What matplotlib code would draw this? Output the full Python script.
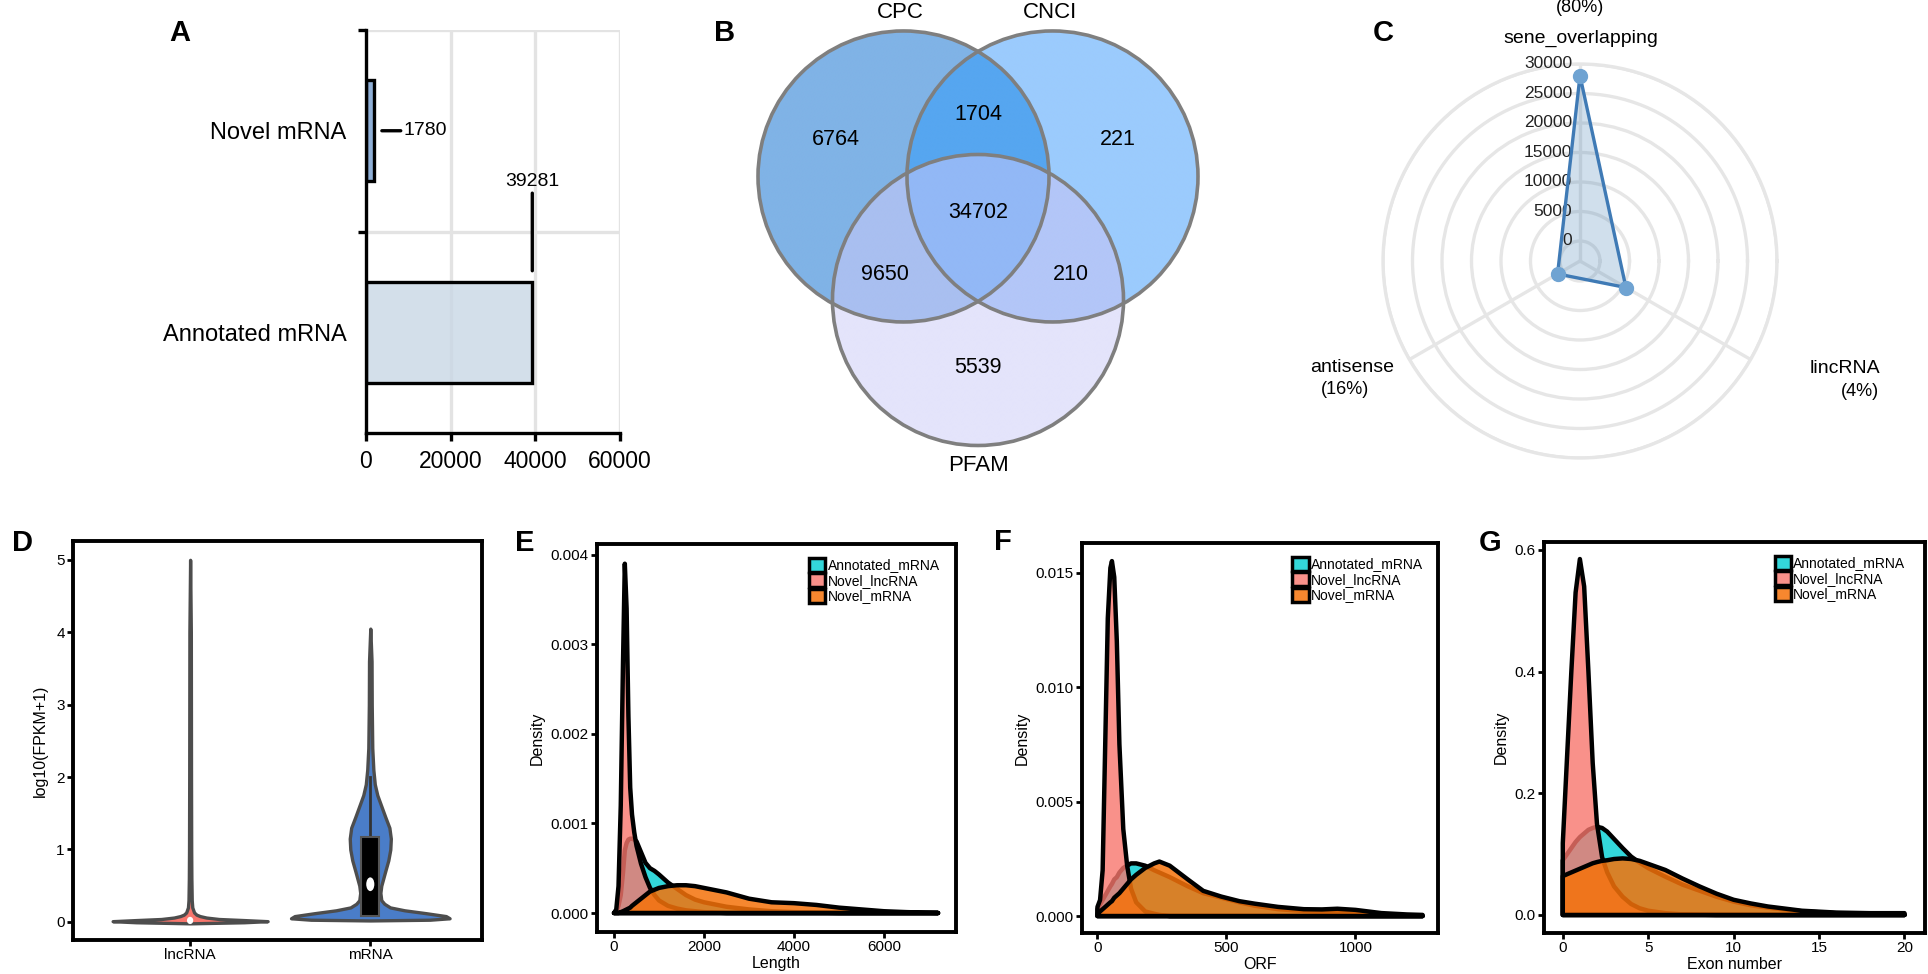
import numpy as np
import matplotlib
matplotlib.use("Agg")
import matplotlib.pyplot as plt
from matplotlib.patches import Patch, Circle, Rectangle, Ellipse
from matplotlib.colors import to_rgba
from matplotlib.transforms import offset_copy

plt.rcParams['font.family'] = ['Liberation Sans', 'DejaVu Sans']

# ---------------- data ----------------
# A
a_categories = ['Annotated mRNA', 'Novel mRNA']
a_counts = [39281, 1780]
a_xticks = [0, 20000, 40000, 60000]

# B (Venn)
venn_sets = ['CPC', 'CNCI', 'PFAM']
venn_only_cpc = 6764
venn_only_cnci = 221
venn_only_pfam = 5539
venn_cpc_cnci = 1704
venn_cpc_pfam = 9650
venn_cnci_pfam = 210
venn_all = 34702

# C (radar)
radar_axes = ['sene_overlapping', 'antisense', 'lincRNA']
radar_pct = ['(80%)', '(16%)', '(4%)']
radar_values = [28000, 1000, 5600]
radar_ticks = [0, 5000, 10000, 15000, 20000, 25000, 30000]

# D (violins): profile heights and half widths (category units)
lnc_y = [-0.02, -0.005, 0.01, 0.025, 0.04, 0.06, 0.08, 0.10, 0.13, 0.20, 0.30, 0.60, 1.0, 2.0, 3.0, 4.0, 5.0]
lnc_hw = [0.0, 0.30, 0.43, 0.30, 0.16, 0.09, 0.055, 0.035, 0.022, 0.012, 0.009, 0.007, 0.006, 0.005, 0.0045, 0.004, 0.0]
mrna_y = [0.02, 0.03, 0.05, 0.08, 0.12, 0.16, 0.20, 0.25, 0.30, 0.40, 0.50, 0.60, 0.70, 0.85, 1.0, 1.15, 1.30, 1.45, 1.60, 1.75, 1.90, 2.10, 2.40, 3.0, 3.6, 4.05]
mrna_hw = [0.0, 0.33, 0.44, 0.42, 0.31, 0.19, 0.11, 0.078, 0.061, 0.056, 0.061, 0.072, 0.083, 0.10, 0.111, 0.114, 0.106, 0.083, 0.061, 0.039, 0.025, 0.017, 0.011, 0.008, 0.007, 0.0]
mrna_box = [0.08, 0.52, 1.17]      # q1, median, q3
mrna_whisker_top = 2.0
d_categories = ['lncRNA', 'mRNA']

groups = ['Annotated_mRNA', 'Novel_lncRNA', 'Novel_mRNA']

# E: Length densities
E_x = [0, 50, 100, 150, 200, 240, 280, 320, 360, 400, 450, 500, 600, 700, 800, 900, 1000, 1200, 1400, 1600, 1800, 2000, 2500, 3000, 3500, 4000, 4500, 5000, 5500, 6000, 6500, 7200]
E_annot = [0, 0.00002, 0.00008, 0.0002, 0.00045, 0.0007, 0.00078, 0.00082, 0.00083, 0.00083, 0.00082, 0.0008, 0.00068, 0.00056, 0.0005, 0.00047, 0.00043, 0.00034, 0.00027, 0.0002, 0.00015, 0.00012, 0.00007, 0.00004, 0.00002, 0.00001, 0.000005, 0, 0, 0, 0, 0]
E_lnc = [0, 0.00004, 0.0003, 0.0012, 0.0028, 0.0039, 0.0034, 0.0022, 0.0014, 0.0011, 0.0009, 0.00075, 0.00055, 0.0004, 0.00028, 0.0002, 0.00014, 0.00008, 0.00005, 0.00003, 0.00002, 0.00001, 0, 0, 0, 0, 0, 0, 0, 0, 0, 0]
E_novel = [0, 0, 0, 0.00001, 0.00002, 0.00003, 0.00004, 0.00005, 0.00006, 0.00008, 0.0001, 0.00012, 0.00016, 0.0002, 0.00024, 0.00026, 0.00028, 0.0003, 0.00031, 0.00031, 0.0003, 0.00028, 0.00023, 0.00016, 0.00012, 0.00011, 0.00009, 0.00006, 0.00004, 0.00002, 0.00001, 0]

# F: ORF densities
F_x = [0, 10, 20, 30, 40, 50, 56, 65, 75, 85, 100, 115, 130, 150, 185, 220, 240, 280, 350, 410, 480, 550, 610, 700, 800, 870, 930, 1000, 1100, 1200, 1260]
F_annot = [0.0003, 0.0005, 0.0007, 0.0009, 0.0011, 0.0013, 0.0014, 0.0016, 0.0017, 0.0019, 0.0021, 0.0022, 0.0023, 0.0023, 0.0022, 0.002, 0.0019, 0.0017, 0.0013, 0.001, 0.0008, 0.0006, 0.00045, 0.0003, 0.00022, 0.00018, 0.00015, 0.0001, 0.00006, 0.00003, 0.00002]
F_lnc = [0.0004, 0.0007, 0.002, 0.0075, 0.013, 0.0152, 0.0155, 0.0148, 0.012, 0.0075, 0.0038, 0.0022, 0.0012, 0.0006, 0.0002, 0.0001, 0.00005, 0, 0, 0, 0, 0, 0, 0, 0, 0, 0, 0, 0, 0, 0]
F_novel = [0.0001, 0.0002, 0.0003, 0.0004, 0.0005, 0.0006, 0.00065, 0.0008, 0.0009, 0.001, 0.0012, 0.0014, 0.0016, 0.0018, 0.0021, 0.0023, 0.00238, 0.0022, 0.0016, 0.0011, 0.00085, 0.00065, 0.00054, 0.0004, 0.0003, 0.00029, 0.00032, 0.00027, 0.00013, 0.00007, 0.00005]

# G: exon number densities
G_x = [0, 0.25, 0.5, 0.75, 1.0, 1.25, 1.5, 1.75, 2.0, 2.3, 2.6, 3.0, 3.5, 4.0, 4.5, 5, 6, 7, 8, 9, 10, 11, 12, 14, 16, 18, 20]
G_lnc = [0.118, 0.26, 0.40, 0.53, 0.585, 0.54, 0.40, 0.25, 0.15, 0.095, 0.07, 0.047, 0.03, 0.018, 0.011, 0.007, 0.003, 0.001, 0.0005, 0, 0, 0, 0, 0, 0, 0, 0]
G_annot = [0.09, 0.10, 0.11, 0.12, 0.128, 0.134, 0.14, 0.143, 0.145, 0.143, 0.137, 0.125, 0.11, 0.096, 0.086, 0.077, 0.063, 0.05, 0.04, 0.03, 0.022, 0.016, 0.012, 0.006, 0.003, 0.002, 0.001]
G_novel = [0.064, 0.067, 0.07, 0.073, 0.076, 0.079, 0.082, 0.085, 0.087, 0.089, 0.09, 0.092, 0.093, 0.092, 0.089, 0.084, 0.074, 0.06, 0.047, 0.035, 0.025, 0.019, 0.014, 0.007, 0.004, 0.003, 0.003]

# ---------------- figure ----------------
W, H = 1928, 974
fig = plt.figure(figsize=(W / 100, H / 100), dpi=100)


def add_ax(l, t, r, b, **kw):
    return fig.add_axes([l / W, 1 - b / H, (r - l) / W, (b - t) / H], **kw)


def ftext(x, y, s, **kw):
    fig.text(x / W, 1 - y / H, s, **kw)


for lab, (x, y) in zip('ABCDEFG', [(180, 33), (725, 33), (1383, 33), (23, 543), (525, 543), (1003, 542), (1490, 543)]):
    ftext(x, y, lab, fontsize=21, fontweight='bold', ha='center', va='center')

# ---------------- A ----------------
axA = add_ax(366, 30, 620, 433)
fills = [to_rgba('#C9D7E5', 0.8), to_rgba('#739BCC', 0.8)]
axA.barh(range(len(a_counts)), a_counts, height=0.5, color=fills, edgecolor='black', linewidth=2.4, zorder=3)
axA.set_xlim(0, 60000)
axA.set_ylim(-0.5, 1.5)
axA.set_xticks(a_xticks)
axA.set_xticklabels([str(v) for v in a_xticks], fontsize=16.5)
axA.set_yticks(range(len(a_categories)))
axA.set_yticklabels(a_categories, fontsize=17)
axA.set_yticks([0.5, 1.5], minor=True)
axA.tick_params(axis='y', which='major', length=0, pad=14)
axA.tick_params(axis='y', which='minor', length=6, width=2.4, color='black')
axA.tick_params(axis='x', length=6, width=2.4, pad=6)
axA.grid(axis='x', which='major', color='#E3E3E3', linewidth=2.4, zorder=0)
axA.grid(axis='y', which='minor', color='#E3E3E3', linewidth=2.4, zorder=0)
axA.set_axisbelow(True)
for s in ['top', 'right']:
    axA.spines[s].set_visible(False)
for s in ['left', 'bottom']:
    axA.spines[s].set_linewidth(2.4)
    axA.spines[s].set_zorder(5)
axA.annotate(str(a_counts[1]), xy=(a_counts[1], 1), xytext=(30, 0), textcoords='offset pixels',
             ha='left', va='center', fontsize=14,
             arrowprops=dict(arrowstyle='-', lw=2.4, color='black', shrinkA=0, shrinkB=6))
axA.annotate(str(a_counts[0]), xy=(a_counts[0], 0.25), xytext=(0, 100), textcoords='offset pixels',
             ha='center', va='center', fontsize=14,
             arrowprops=dict(arrowstyle='-', lw=2.4, color='black', shrinkA=0, shrinkB=8))

# ---------------- B (Venn) ----------------
scale = 145.5
cxp, cyp = 978, 238.3
axB = add_ax(740, 0, 1220, 480)
xl = ((740 - cxp) / scale, (1220 - cxp) / scale)
yl = ((cyp - 480) / scale, (cyp - 0) / scale)
axB.set_xlim(*xl)
axB.set_ylim(*yl)
axB.axis('off')
centers = [(-0.512, 0.425), (0.512, 0.425), (0.0, -0.424)]
n = 1000
X, Y = np.meshgrid(np.linspace(xl[0], xl[1], n), np.linspace(yl[0], yl[1], n))
ins = [((X - cx) ** 2 + (Y - cy) ** 2) <= 1.0 for cx, cy in centers]
region_colors = {
    (1, 0, 0): '#80B3E6', (0, 1, 0): '#9BCBFD', (0, 0, 1): '#E4E4FB',
    (1, 1, 0): '#56A6F0', (1, 0, 1): '#A9BFF0', (0, 1, 1): '#B3C6F8',
    (1, 1, 1): '#92B8F6'}
img = np.zeros((n, n, 4))
for key, col in region_colors.items():
    m = (ins[0] == bool(key[0])) & (ins[1] == bool(key[1])) & (ins[2] == bool(key[2]))
    img[m] = to_rgba(col)
axB.imshow(img, extent=(xl[0], xl[1], yl[0], yl[1]), origin='lower', interpolation='bilinear', aspect='auto')
for cx, cy in centers:
    axB.add_patch(Circle((cx, cy), 1.0, fill=False, ec='#7F7F7F', lw=2.6))
venn_counts = [venn_only_cpc, venn_only_cnci, venn_cpc_cnci, venn_all, venn_cpc_pfam, venn_cnci_pfam, venn_only_pfam]
venn_pos = [(-0.976, 0.676), (0.962, 0.676), (0.0, 0.848), (0.0, 0.18), (-0.639, -0.252), (0.639, -0.252), (0.0, -0.885)]
for c, (px, py) in zip(venn_counts, venn_pos):
    axB.text(px, py, str(c), ha='center', va='center', fontsize=15.5)
for name, (px, py) in zip(venn_sets, [(-0.536, 1.55), (0.495, 1.55), (0.0, -1.56)]):
    axB.text(px, py, name, ha='center', va='center', fontsize=16)

# ---------------- C (radar) ----------------
axC = add_ax(1383, 64, 1777, 458, projection='polar')
rmin = -3390
axC.set_ylim(rmin, 30000)
angles = np.deg2rad([90, 210, 330])
axC.set_xticks(angles)
axC.set_xticklabels([])
axC.set_yticks(radar_ticks)
axC.set_yticklabels([])
axC.grid(True, color='#E6E6E6', linewidth=2.4)
axC.spines['polar'].set_color('#E6E6E6')
axC.spines['polar'].set_linewidth(2.4)
axC.tick_params(length=0)
th = np.append(angles, angles[0])
rv = np.append(radar_values, radar_values[0])
axC.fill(th, rv, color='#4682B4', alpha=0.25, zorder=3)
axC.plot(th, rv, color='#3F7AB5', lw=2.4, zorder=4)
axC.plot(angles, radar_values, 'o', ms=10, color='#6FA3D2', zorder=5)
tr = offset_copy(axC.transData, fig=fig, x=-8, y=0, units='dots')
for v in radar_ticks:
    axC.text(np.pi / 2, v, str(v), transform=tr, ha='right', va='center', fontsize=12.5, color='#222222')
ftext(1581, 38, radar_axes[0], ha='center', va='center', fontsize=14)
ftext(1580, 8, radar_pct[0], ha='center', va='center', fontsize=13)
ftext(1352, 367, radar_axes[1], ha='center', va='center', fontsize=14)
ftext(1345, 390, radar_pct[1], ha='center', va='center', fontsize=13)
ftext(1845, 369, radar_axes[2], ha='center', va='center', fontsize=14)
ftext(1860, 391, radar_pct[2], ha='center', va='center', fontsize=13)


# ---------------- bottom row helpers ----------------
def style_box(ax):
    for s in ax.spines.values():
        s.set_linewidth(2.8)
        s.set_color('black')
    ax.tick_params(direction='out', length=4, width=2, labelsize=11, pad=2, colors='black')


# ---------------- D ----------------
axD = add_ax(73, 541, 482, 940)
style_box(axD)
ly = np.array(lnc_y)
lh = np.array(lnc_hw)
axD.fill_betweenx(ly, 1 - lh, 1 + lh, facecolor='#F8766D', edgecolor='#4D4D4D', lw=2.4, zorder=2)
my = np.array(mrna_y)
mh = np.array(mrna_hw)
axD.fill_betweenx(my, 2 - mh, 2 + mh, facecolor='#4A7DC8', edgecolor='#4D4D4D', lw=2.4, zorder=2)
axD.plot([2, 2], [mrna_box[2], mrna_whisker_top], color='#333333', lw=2, zorder=3)
axD.add_patch(Rectangle((2 - 0.05, mrna_box[0]), 0.1, mrna_box[2] - mrna_box[0], facecolor='black', edgecolor='#555555', lw=1.5, zorder=4))
axD.add_patch(Ellipse((2, mrna_box[1]), 0.045, 0.19, facecolor='white', edgecolor='none', zorder=5))
axD.add_patch(Ellipse((1, 0.02), 0.035, 0.1, facecolor='white', edgecolor='none', zorder=5))
axD.set_xlim(0.35, 2.62)
axD.set_ylim(-0.25, 5.26)
axD.set_xticks([1, 2])
axD.set_xticklabels(d_categories)
axD.set_yticks([0, 1, 2, 3, 4, 5])
axD.set_ylabel('log10(FPKM+1)', fontsize=11.5, labelpad=6)

# ---------------- density panels ----------------
dens_colors = [to_rgba('#00CED1', 0.8), to_rgba('#F8766D', 0.8), to_rgba('#F5720A', 0.85)]


def density_panel(ax, x, series, xlim, ylim, xticks, yticks, yfmt, xlabel, leg_x):
    style_box(ax)
    for i, (ys, col) in enumerate(zip(series, dens_colors)):
        px = [x[0]] + list(x) + [x[-1]]
        py = [0] + list(ys) + [0]
        ax.fill(px, py, facecolor=col, edgecolor='black', lw=3.2, joinstyle='round', zorder=2 + i)
    ax.set_xlim(*xlim)
    ax.set_ylim(*ylim)
    ax.set_xticks(xticks)
    ax.set_yticks(yticks)
    ax.set_yticklabels([yfmt % v for v in yticks])
    ax.set_xlabel(xlabel, fontsize=11.5, labelpad=1)
    ax.set_ylabel('Density', fontsize=11.5, labelpad=4)
    handles = [Patch(facecolor=c, edgecolor='black', lw=2.5) for c in dens_colors]
    ax.legend(handles, groups, loc='upper left', bbox_to_anchor=(leg_x, 0.965), frameon=False,
              fontsize=10, handlelength=1.2, handleheight=1.2, handletextpad=0.15,
              labelspacing=0.05, borderpad=0, borderaxespad=0)


axE = add_ax(597, 544, 956, 932)
density_panel(axE, E_x, [E_annot, E_lnc, E_novel], (-378, 7600), (-0.000212, 0.00412),
              [0, 2000, 4000, 6000], [0, 0.001, 0.002, 0.003, 0.004], '%.3f', 'Length', 0.59)

axF = add_ax(1082, 543, 1438, 933)
density_panel(axF, F_x, [F_annot, F_lnc, F_novel], (-60, 1320), (-0.00074, 0.01629),
              [0, 500, 1000], [0, 0.005, 0.010, 0.015], '%.3f', 'ORF', 0.59)

axG = add_ax(1544, 542, 1925, 933)
density_panel(axG, G_x, [G_annot, G_lnc, G_novel], (-1.1, 21.2), (-0.0296, 0.613),
              [0, 5, 10, 15, 20], [0, 0.2, 0.4, 0.6], '%.1f', 'Exon number', 0.605)

fig.savefig('out.png', dpi=100)
